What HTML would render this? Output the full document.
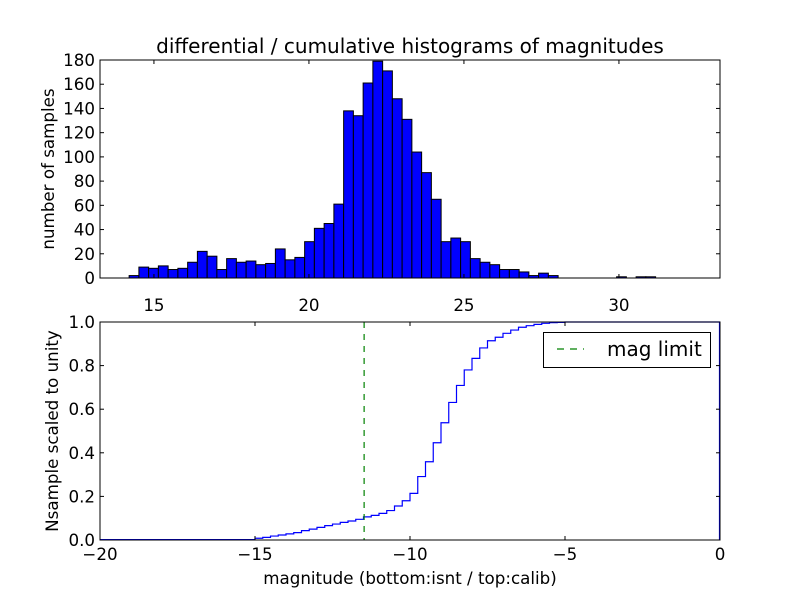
<!DOCTYPE html>
<html><head><meta charset="utf-8"><style>
body{margin:0;background:#fff;}
svg{display:block;font-family:"DejaVu Sans","Liberation Sans",sans-serif;}
</style></head><body>
<svg id="chart" width="800" height="600" viewBox="0 0 800 600">
<rect width="800" height="600" fill="#fff"/>
<g id="topPanel"></g>
<g id="botPanel"></g>
</svg>
<script>
const histStart = 14.20;
const histBinWidth = 0.3145;
const histCounts = [2,9,8,10,7,8,13,22,18,7,16,13,14,11,12,24,15,17,30,41,45,61,138,134,161,179,171,148,131,104,87,65,30,33,30,16,13,11,7,7,5,2,4,2,0,0,0,0,0,0,1,0,1,1];
const topXTicks = [15,20,25,30];
const topYTicks = [0,20,40,60,80,100,120,140,160,180];
const cumStart = -15;
const cumBinWidth = 0.25;
const cumValues = [0.008,0.012,0.018,0.023,0.028,0.034,0.043,0.050,0.058,0.066,0.073,0.081,0.087,0.095,0.106,0.113,0.122,0.135,0.156,0.180,0.214,0.291,0.359,0.446,0.538,0.631,0.709,0.780,0.833,0.881,0.914,0.930,0.948,0.963,0.976,0.983,0.989,0.994,0.997,0.998,1.0];
const cumPre = 0.002;
const magLimit = -11.48;
const botXTicks = [-20,-15,-10,-5,0];
const botYTicks = [0,0.2,0.4,0.6,0.8,1.0];

const NS="http://www.w3.org/2000/svg";
function mk(tag,attrs,parent,text){const e=document.createElementNS(NS,tag);for(const k in attrs)e.setAttribute(k,attrs[k]);if(text!==undefined)e.textContent=text;parent.appendChild(e);return e;}
const AL=100,AR=720,FS=16.7;
const tX=v=>AL+(v-13.26)/20*(AR-AL);
const tY=v=>278-v/180*218;
const topG=document.getElementById('topPanel');
histCounts.forEach((c,i)=>{
  if(c<=0)return;
  const x0=tX(histStart+i*histBinWidth),x1=tX(histStart+(i+1)*histBinWidth);
  const r=mk('rect',{x:x0,y:tY(c),width:x1-x0,height:tY(0)-tY(c),fill:'#0000ff',stroke:'#000','stroke-width':1},topG);
  
  
});
topXTicks.forEach(t=>{
  const x=tX(t);
  mk('line',{x1:x,x2:x,y1:278,y2:274,stroke:'#000'},topG);
  mk('line',{x1:x,x2:x,y1:60,y2:64,stroke:'#000'},topG);
  const tx=mk('text',{x:x,y:311,'font-size':FS,'text-anchor':'middle'},topG,String(t));
  
  
});
topYTicks.forEach(t=>{
  const y=tY(t);
  mk('line',{x1:AL,x2:AL+4,y1:y,y2:y,stroke:'#000'},topG);
  mk('line',{x1:AR,x2:AR-4,y1:y,y2:y,stroke:'#000'},topG);
  const tx=mk('text',{x:95,y:y+6,'font-size':FS,'text-anchor':'end'},topG,String(t));
  
  
});
mk('rect',{x:AL,y:60,width:AR-AL,height:218,fill:'none',stroke:'#000','stroke-width':1},topG);
let e=mk('text',{x:410,y:53,'font-size':20,'text-anchor':'middle'},topG,'differential / cumulative histograms of magnitudes');

e=mk('text',{x:0,y:0,'font-size':FS,'text-anchor':'middle',transform:'translate(54,169) rotate(-90)'},topG,'number of samples');


const bX=v=>AL+(v+20)/20*(AR-AL);
const bY=v=>540-v*218;
const botG=document.getElementById('botPanel');
let d=`M${bX(-20)},${bY(cumPre)} L${bX(cumStart)},${bY(cumPre)}`;
cumValues.forEach((v,i)=>{
  const x0=bX(cumStart+i*cumBinWidth),x1=bX(cumStart+(i+1)*cumBinWidth);
  d+=` L${x0},${bY(v)} L${x1},${bY(v)}`;
});
d+=` L${bX(0)-0.5},${bY(1)} L${bX(0)-0.5},${bY(0)}`;
e=mk('path',{d:d,fill:'none',stroke:'#0000ff','stroke-width':1.2},botG);

e=mk('line',{x1:bX(magLimit),x2:bX(magLimit),y1:322,y2:540,stroke:'#008000','stroke-width':1.2,'stroke-dasharray':'6,6'},botG);

botXTicks.forEach(t=>{
  const x=bX(t);
  mk('line',{x1:x,x2:x,y1:540,y2:536,stroke:'#000'},botG);
  mk('line',{x1:x,x2:x,y1:322,y2:326,stroke:'#000'},botG);
  const tx=mk('text',{x:x,y:560,'font-size':FS,'text-anchor':'middle'},botG,String(t).replace('-','\u2212'));
  
  
});
botYTicks.forEach(t=>{
  const y=bY(t);
  mk('line',{x1:AL,x2:AL+4,y1:y,y2:y,stroke:'#000'},botG);
  mk('line',{x1:AR,x2:AR-4,y1:y,y2:y,stroke:'#000'},botG);
  const tx=mk('text',{x:95,y:y+6,'font-size':FS,'text-anchor':'end'},botG,t.toFixed(1));
  
  
});
mk('rect',{x:AL,y:322,width:AR-AL,height:218,fill:'none',stroke:'#000','stroke-width':1},botG);
e=mk('text',{x:410,y:584,'font-size':FS,'text-anchor':'middle'},botG,'magnitude (bottom:isnt / top:calib)');

e=mk('text',{x:0,y:0,'font-size':FS,'text-anchor':'middle',transform:'translate(58,431) rotate(-90)'},botG,'Nsample scaled to unity');

const lg=mk('g',{},botG);


mk('rect',{x:543.5,y:332.5,width:167,height:35,fill:'#fff',stroke:'#000','stroke-width':1},lg);
mk('line',{x1:557,x2:584,y1:349,y2:349,stroke:'#008000','stroke-width':1.2,'stroke-dasharray':'7,6'},lg);
e=mk('text',{x:607,y:356,'font-size':20},lg,'mag limit');

</script>
</body></html>
